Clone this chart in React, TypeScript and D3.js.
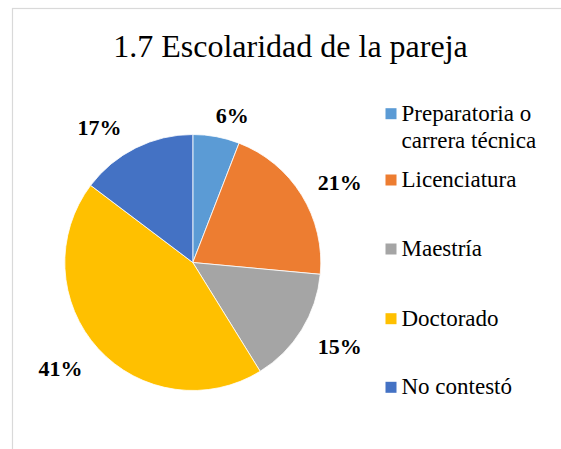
import React from "react";
import * as d3 from "d3";

const categories = [
  "Preparatoria o carrera técnica",
  "Licenciatura",
  "Maestría",
  "Doctorado",
  "No contestó",
];
const counts = [2, 7, 5, 15, 5];
const labelTexts = ["6%", "21%", "15%", "41%", "17%"];
const legendLines = [
  ["Preparatoria o", "carrera técnica"],
  ["Licenciatura"],
  ["Maestría"],
  ["Doctorado"],
  ["No contestó"],
];
const colors = ["#5B9BD5", "#ED7D31", "#A5A5A5", "#FFC000", "#4472C4"];
const title = "1.7 Escolaridad de la pareja";

// layout
const W = 561;
const H = 449;
const cx = 192.8;
const cy = 262.5;
const R = 128;
const labelR = 160;
const labelNudge: [number, number][] = [
  [10, 10],
  [11, 4],
  [11, -1],
  [-14, -2],
  [-22, 8],
];
const legendBaselines = [120.7, 187, 256, 325.7, 394.3];
const FONT = "Liberation Serif";
const textStyle: React.CSSProperties = { fontFamily: FONT };

export default function App() {
  const pie = d3
    .pie<number>()
    .sort(null)
    .value((d) => d)
    .startAngle(0)
    .endAngle(2 * Math.PI);
  const arcs = pie(counts);
  const arc = d3.arc<d3.PieArcDatum<number>>().innerRadius(0).outerRadius(R);
  const labelArc = d3
    .arc<d3.PieArcDatum<number>>()
    .innerRadius(labelR)
    .outerRadius(labelR);

  return (
    <svg
      width={W}
      height={H}
      style={{ position: "absolute", left: 0, top: 0, background: "#fff" }}
    >
      <rect x={0} y={0} width={W} height={H} fill="#fff" />
      <rect
        x={12.5}
        y={8.5}
        width={700}
        height={600}
        fill="#fff"
        stroke="#D9D9D9"
        strokeWidth={1.2}
      />
      <text
        x={290.5}
        y={57.3}
        textAnchor="middle"
        style={{ ...textStyle, fontSize: 32 }}
        fill="#000"
      >
        {title}
      </text>
      <g transform={`translate(${cx},${cy})`}>
        {arcs.map((a, i) => (
          <path
            key={categories[i]}
            d={arc(a) || ""}
            fill={colors[i]}
            stroke="#fff"
            strokeWidth={0.8}
          />
        ))}
        {arcs.map((a, i) => {
          const [x, y] = labelArc.centroid(a);
          return (
            <text
              key={"l" + i}
              x={x + labelNudge[i][0]}
              y={y + 8 + labelNudge[i][1]}
              textAnchor="middle"
              style={{ ...textStyle, fontSize: 22, fontWeight: "bold" }}
              fill="#000"
            >
              {labelTexts[i]}
            </text>
          );
        })}
      </g>
      <g>
        {categories.map((c, i) => (
          <g key={"lg" + c}>
            <rect
              x={385.5}
              y={legendBaselines[i] - 12.5}
              width={11}
              height={11}
              fill={colors[i]}
            />
            <text
              x={401.5}
              y={legendBaselines[i]}
              style={{ ...textStyle, fontSize: 23 }}
              fill="#000"
            >
              {legendLines[i].map((ln, j) => (
                <tspan key={j} x={401.5} dy={j === 0 ? 0 : 27.6}>
                  {ln}
                </tspan>
              ))}
            </text>
          </g>
        ))}
      </g>
    </svg>
  );
}
